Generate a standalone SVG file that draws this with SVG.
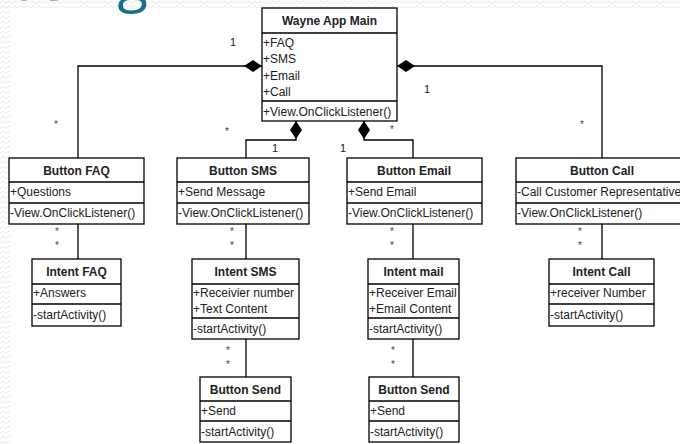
<svg xmlns="http://www.w3.org/2000/svg" width="680" height="444" viewBox="0 0 680 444">
<style>
.box{fill:#fff;stroke:#000;stroke-width:1.3}
.sep{stroke:#000;stroke-width:1.3}
.t{font-family:"Liberation Sans",Arial,sans-serif;font-size:12px;font-weight:bold;fill:#222;text-anchor:middle}
.a{font-family:"Liberation Sans",Arial,sans-serif;font-size:12px;fill:#222}
.m{font-family:"Liberation Sans",Arial,sans-serif;font-size:11px;fill:#222;text-anchor:middle}
.s{font-family:"Liberation Sans",Arial,sans-serif;font-size:10px;fill:#444;text-anchor:middle}
.c{fill:none;stroke:#000;stroke-width:1.3}
</style>
<defs>
<pattern id="zz" width="6" height="5" patternUnits="userSpaceOnUse">
<polyline points="0,3.5 3,1 6,3.5" fill="none" stroke="#e2e2e2" stroke-width="0.8"/>
</pattern>
<marker id="dia" viewBox="0 0 18 12" markerWidth="18" markerHeight="12" refX="0" refY="6" orient="auto" markerUnits="userSpaceOnUse">
<path d="M0,6 L9,0 L18,6 L9,12 Z" fill="#000"/>
</marker>
</defs>
<rect width="680" height="444" fill="#fff"/>
<rect x="0" y="0" width="10" height="444" fill="url(#zz)"/>
<rect x="0" y="0" width="680" height="8" fill="url(#zz)"/>
<text x="8" y="0" font-family="'Open Sans','Liberation Sans',sans-serif" font-size="56" fill="#136f8a">using</text>

<g id="connectors">
<path class="c" d="M262,66 H78 V158" marker-start="url(#dia)"/>
<path class="c" d="M397,66 H602 V158" marker-start="url(#dia)"/>
<path class="c" d="M296,121 V140 H246 V158" marker-start="url(#dia)"/>
<path class="c" d="M364,121 V140 H413 V158" marker-start="url(#dia)"/>
<path class="c" d="M78,224 V259"/>
<path class="c" d="M246,224 V259"/>
<path class="c" d="M413,224 V259"/>
<path class="c" d="M602,224 V259"/>
<path class="c" d="M246,339 V377"/>
<path class="c" d="M413,339 V377"/>
<text class="m" x="233" y="46">1</text>
<text class="s" x="56" y="128">*</text>
<text class="s" x="227" y="135">*</text>
<text class="m" x="275" y="152">1</text>
<text class="m" x="343" y="152">1</text>
<text class="s" x="392" y="133">*</text>
<text class="m" x="427" y="93">1</text>
<text class="s" x="582" y="128">*</text>
<text class="s" x="57" y="235">*</text><text class="s" x="57" y="249">*</text>
<text class="s" x="232" y="235">*</text><text class="s" x="232" y="249">*</text>
<text class="s" x="392" y="235">*</text><text class="s" x="392" y="249">*</text>
<text class="s" x="580" y="235">*</text><text class="s" x="580" y="249">*</text>
<text class="s" x="228" y="354">*</text><text class="s" x="228" y="368">*</text>
<text class="s" x="393" y="354">*</text><text class="s" x="393" y="368">*</text>
</g>

<g id="wayne-app-main">
<rect class="box" x="262" y="8" width="135" height="113"/>
<line class="sep" x1="262" y1="33" x2="397" y2="33"/>
<line class="sep" x1="262" y1="101" x2="397" y2="101"/>
<text class="t" x="329.5" y="25">Wayne App Main</text>
<text class="a" x="263" y="47">+FAQ</text>
<text class="a" x="263" y="63">+SMS</text>
<text class="a" x="263" y="80">+Email</text>
<text class="a" x="263" y="96">+Call</text>
<text class="a" x="263" y="116">+View.OnClickListener()</text>
</g>

<g id="button-faq">
<rect class="box" x="9" y="158" width="135" height="66"/>
<line class="sep" x1="9" y1="182" x2="144" y2="182"/>
<line class="sep" x1="9" y1="203" x2="144" y2="203"/>
<text class="t" x="76.5" y="175">Button FAQ</text>
<text class="a" x="10" y="196">+Questions</text>
<text class="a" x="10" y="217">-View.OnClickListener()</text>
</g>

<g id="button-sms">
<rect class="box" x="177" y="158" width="132" height="66"/>
<line class="sep" x1="177" y1="182" x2="309" y2="182"/>
<line class="sep" x1="177" y1="203" x2="309" y2="203"/>
<text class="t" x="243" y="175">Button SMS</text>
<text class="a" x="178" y="196">+Send Message</text>
<text class="a" x="178" y="217">-View.OnClickListener()</text>
</g>

<g id="button-email">
<rect class="box" x="347" y="158" width="135" height="66"/>
<line class="sep" x1="347" y1="182" x2="482" y2="182"/>
<line class="sep" x1="347" y1="203" x2="482" y2="203"/>
<text class="t" x="414" y="175">Button Email</text>
<text class="a" x="348" y="196">+Send Email</text>
<text class="a" x="348" y="217">-View.OnClickListener()</text>
</g>

<g id="button-call">
<rect class="box" x="516" y="158" width="172" height="66"/>
<line class="sep" x1="516" y1="182" x2="688" y2="182"/>
<line class="sep" x1="516" y1="203" x2="688" y2="203"/>
<text class="t" x="602" y="175">Button Call</text>
<text class="a" x="517" y="196">-Call Customer Representative</text>
<text class="a" x="517" y="217">-View.OnClickListener()</text>
</g>

<g id="intent-faq">
<rect class="box" x="32" y="259" width="89" height="67"/>
<line class="sep" x1="32" y1="284" x2="121" y2="284"/>
<line class="sep" x1="32" y1="304" x2="121" y2="304"/>
<text class="t" x="76.5" y="276">Intent FAQ</text>
<text class="a" x="33" y="297">+Answers</text>
<text class="a" x="33" y="319">-startActivity()</text>
</g>

<g id="intent-sms">
<rect class="box" x="192" y="259" width="107" height="80"/>
<line class="sep" x1="192" y1="284" x2="299" y2="284"/>
<line class="sep" x1="192" y1="318" x2="299" y2="318"/>
<text class="t" x="245.5" y="276">Intent SMS</text>
<text class="a" x="193" y="297">+Receivier number</text>
<text class="a" x="193" y="313">+Text Content</text>
<text class="a" x="193" y="333">-startActivity()</text>
</g>

<g id="intent-mail">
<rect class="box" x="368" y="259" width="91" height="80"/>
<line class="sep" x1="368" y1="284" x2="459" y2="284"/>
<line class="sep" x1="368" y1="318" x2="459" y2="318"/>
<text class="t" x="413.5" y="276">Intent mail</text>
<text class="a" x="369" y="297">+Receiver Email</text>
<text class="a" x="369" y="313">+Email Content</text>
<text class="a" x="369" y="333">-startActivity()</text>
</g>

<g id="intent-call">
<rect class="box" x="549" y="259" width="105" height="67"/>
<line class="sep" x1="549" y1="284" x2="654" y2="284"/>
<line class="sep" x1="549" y1="304" x2="654" y2="304"/>
<text class="t" x="601.5" y="276">Intent Call</text>
<text class="a" x="550" y="297">+receiver Number</text>
<text class="a" x="550" y="319">-startActivity()</text>
</g>

<g id="button-send-sms">
<rect class="box" x="200" y="377" width="91" height="65"/>
<line class="sep" x1="200" y1="401" x2="291" y2="401"/>
<line class="sep" x1="200" y1="421" x2="291" y2="421"/>
<text class="t" x="245.5" y="394">Button Send</text>
<text class="a" x="201" y="415">+Send</text>
<text class="a" x="201" y="436">-startActivity()</text>
</g>

<g id="button-send-email">
<rect class="box" x="369" y="377" width="90" height="65"/>
<line class="sep" x1="369" y1="401" x2="459" y2="401"/>
<line class="sep" x1="369" y1="421" x2="459" y2="421"/>
<text class="t" x="414" y="394">Button Send</text>
<text class="a" x="370" y="415">+Send</text>
<text class="a" x="370" y="436">-startActivity()</text>
</g>
</svg>
